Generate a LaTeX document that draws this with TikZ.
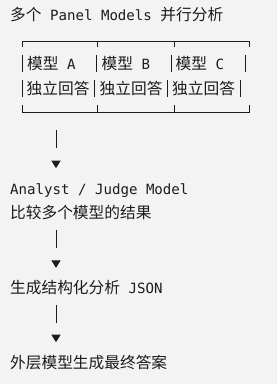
\documentclass[tikz,border=0pt]{standalone}
\usepackage{fontspec}
\usepackage{xcolor}
\usepackage{tikz}
\usetikzlibrary{arrows.meta, calc}
\setmonofont{DejaVu Sans Mono}
\newfontfamily\cjkfont{Noto Sans CJK SC}
\newcommand{\zhtxt}[1]{{\cjkfont\fontsize{15.7pt}{24pt}\selectfont #1}}
\definecolor{pagebg}{RGB}{243, 243, 243}
\definecolor{inktext}{RGB}{28, 28, 28}

\begin{document}
\begin{tikzpicture}[x=1pt, y=-1pt,
    asciitext/.style={font=\ttfamily\fontsize{14.1pt}{24pt}\selectfont, text=inktext,
          inner sep=0pt, anchor=base west, text height=12pt, text depth=3pt},
    boxrule/.style={draw=inktext, line width=1pt},
    flow/.style={draw=inktext, line width=1pt, dash pattern=on 17.7pt off 20pt,
          -{Triangle[length=7.5pt, width=9pt]}, shorten <=8.4pt, shorten >=13.6pt}]
    \fill[pagebg] (0,0) rectangle (277,384);
    \useasboundingbox (0,0) rectangle (277,384);

    % title line
    \node[asciitext] (title) at (10,20) {\zhtxt{多个} Panel Models \zhtxt{并行分析}};

    % panel grid
    \draw[boxrule] (22,47) -- (22,41) -- (249,41) -- (249,47);
    \draw[boxrule] (22,105) -- (22,112) -- (249,112) -- (249,105);
    \foreach \x in {97,174} {
        \draw[boxrule] (\x,41) -- (\x,47);
        \draw[boxrule] (\x,105) -- (\x,112);
    }
    \foreach \x in {22,96,171,245} \draw[boxrule] (\x,55) -- (\x,72);
    \foreach \x in {22,94.5,167,240} \draw[boxrule] (\x,80) -- (\x,97);

    \node[asciitext] (pa) at (27,69.7) {\zhtxt{模型} A};
    \node[asciitext] (pb) at (101.5,69.7) {\zhtxt{模型} B};
    \node[asciitext] (pc) at (175.5,69.7) {\zhtxt{模型} C};
    \node[asciitext] (ra) at (26.5,94.6) {\zhtxt{独立回答}};
    \node[asciitext] (rb) at (99.5,94.6) {\zhtxt{独立回答}};
    \node[asciitext] (rc) at (172,94.6) {\zhtxt{独立回答}};

    % analysis chain
    \coordinate (spine) at (56,0);
    \coordinate (panels) at (56,112);
    \node[asciitext] (judge) at (10,194) {Analyst / Judge Model};
    \node[asciitext] (compare) at (10,218.6) {\zhtxt{比较多个模型的结果}};
    \node[asciitext] (json) at (10,293.7) {\zhtxt{生成结构化分析} JSON};
    \node[asciitext] (final) at (10,368) {\zhtxt{外层模型生成最终答案}};

    \draw[flow, shorten <=18pt] (panels) -- (judge.north -| spine);
    \draw[flow] (compare.south -| spine) -- (json.north -| spine);
    \draw[flow] (json.south -| spine) -- (final.north -| spine);
\end{tikzpicture}
\end{document}
